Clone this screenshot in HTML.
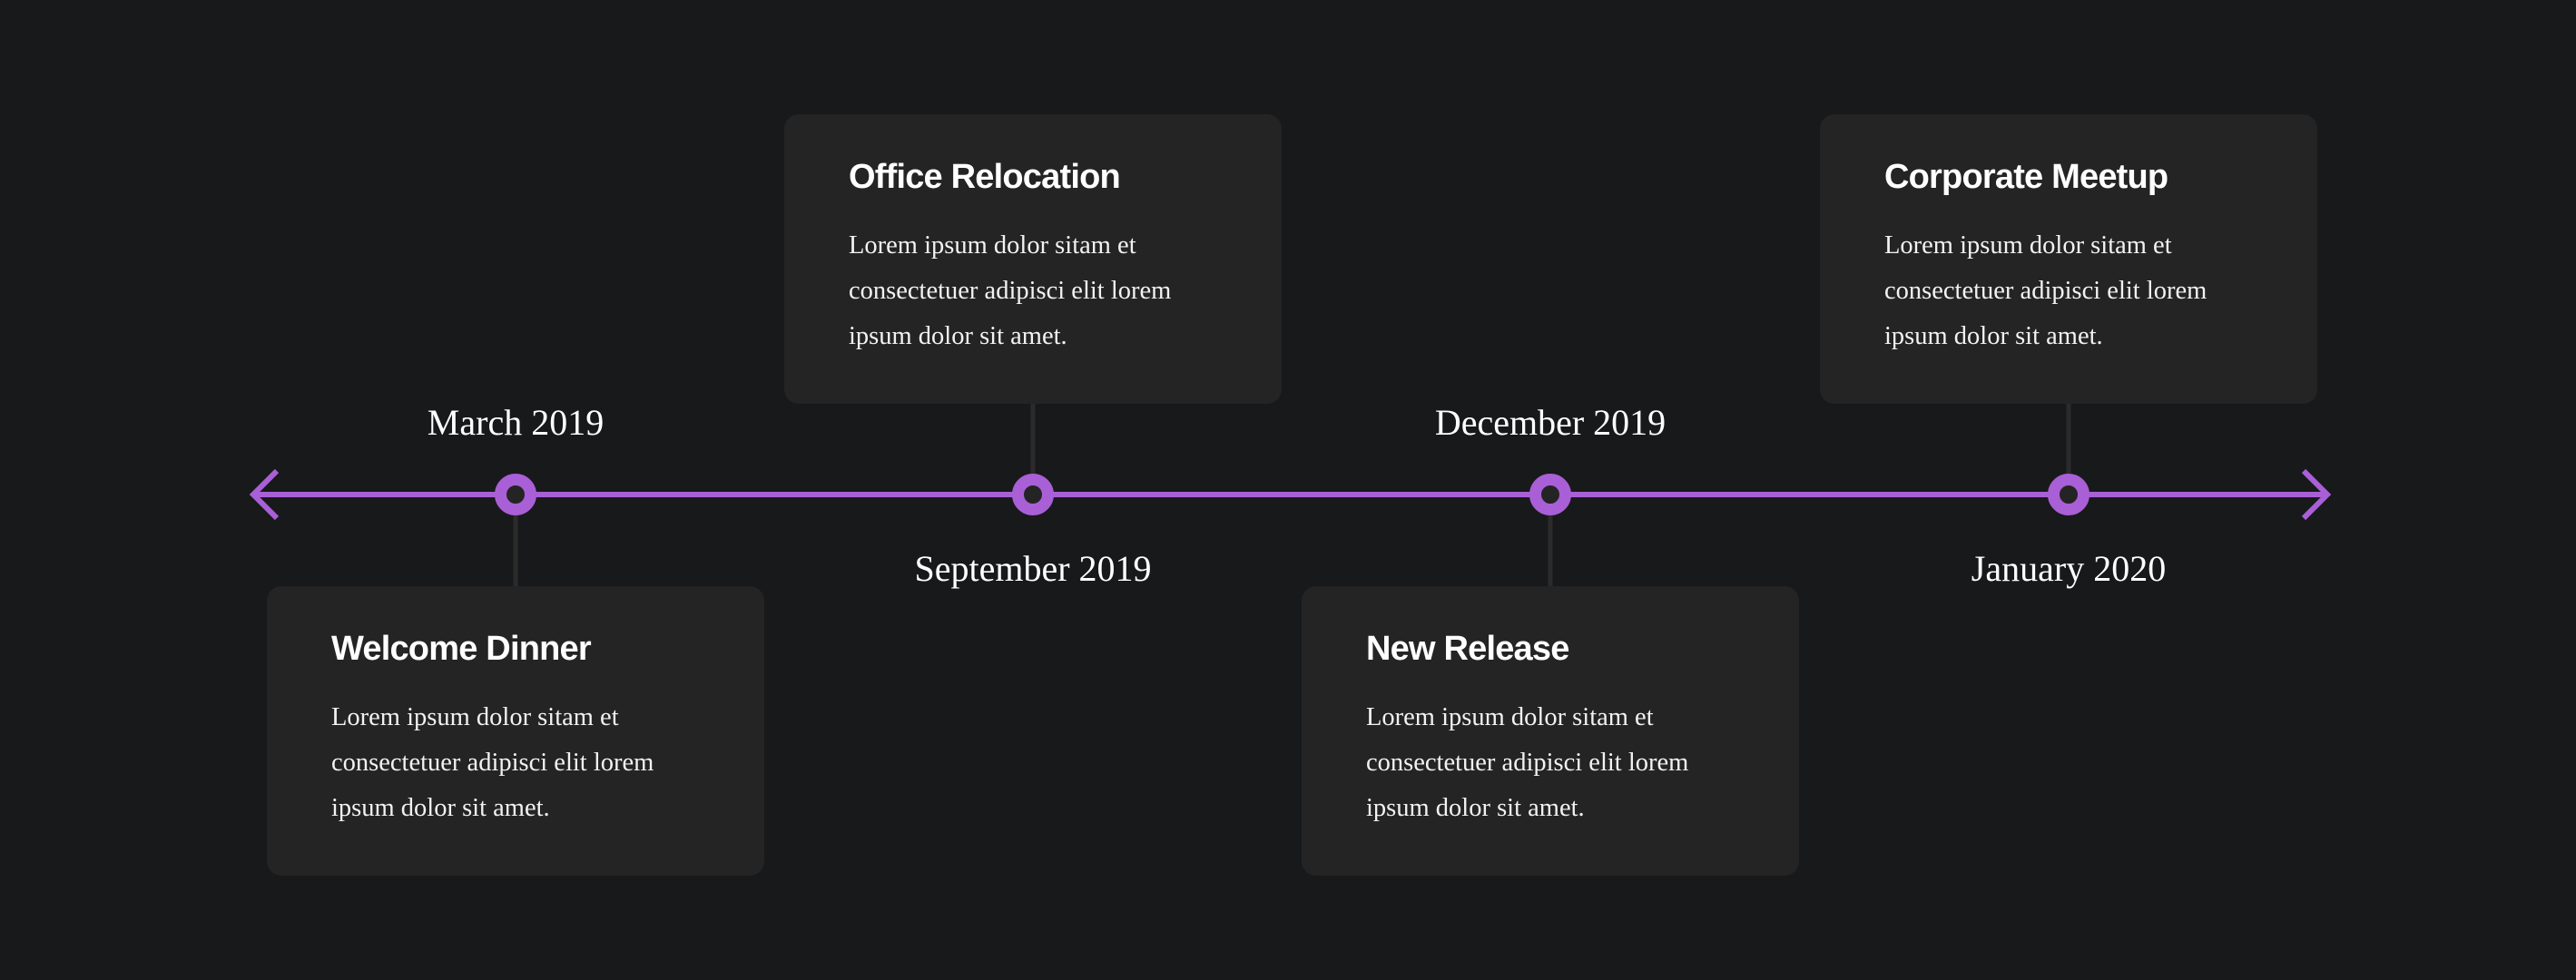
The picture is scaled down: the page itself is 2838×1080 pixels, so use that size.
<!DOCTYPE html>
<html><head><meta charset="utf-8"><style>
html,body{margin:0;padding:0;background:#18191b;}
#c{position:relative;width:2838px;height:1080px;overflow:hidden;background:#18191b;}
.card{position:absolute;width:548px;height:319px;background:#242424;border-radius:16px;box-sizing:border-box;padding-left:71px;}
.t{position:absolute;left:71px;top:48px;font-family:"Liberation Sans",sans-serif;font-weight:bold;font-size:38px;letter-spacing:-0.8px;color:#fff;white-space:nowrap;}
.b{position:absolute;left:71px;top:120px;font-family:"Liberation Serif",serif;font-size:28.5px;line-height:50px;color:#f2f2f2;white-space:nowrap;}
.d{position:absolute;width:500px;text-align:center;font-family:"Liberation Serif",serif;font-size:40px;color:#fff;line-height:1;}
</style></head><body><div id="c">
<svg width="2838" height="1080" style="position:absolute;left:0;top:0">
<g stroke="#2b2b2b" stroke-width="5">
<line x1="568" y1="545" x2="568" y2="650"/>
<line x1="1138" y1="440" x2="1138" y2="545"/>
<line x1="1708" y1="545" x2="1708" y2="650"/>
<line x1="2279" y1="440" x2="2279" y2="545"/>
</g>
<line x1="280" y1="545" x2="2563" y2="545" stroke="#a95fd6" stroke-width="6"/>
<polyline points="305,519 279,545 305,571" fill="none" stroke="#a95fd6" stroke-width="6"/>
<polyline points="2538,519 2564,545 2538,571" fill="none" stroke="#a95fd6" stroke-width="6"/>
<g fill="#242424" stroke="#a95fd6" stroke-width="13">
<circle cx="568" cy="545" r="16.5"/>
<circle cx="1138" cy="545" r="16.5"/>
<circle cx="1708" cy="545" r="16.5"/>
<circle cx="2279" cy="545" r="16.5"/>
</g>
</svg>
<div class="card" style="left:864px;top:126px"><div class="t">Office Relocation</div><div class="b">Lorem ipsum dolor sitam et<br>consectetuer adipisci elit lorem<br>ipsum dolor sit amet.</div></div>
<div class="card" style="left:2005px;top:126px"><div class="t">Corporate Meetup</div><div class="b">Lorem ipsum dolor sitam et<br>consectetuer adipisci elit lorem<br>ipsum dolor sit amet.</div></div>
<div class="card" style="left:294px;top:646px"><div class="t">Welcome Dinner</div><div class="b">Lorem ipsum dolor sitam et<br>consectetuer adipisci elit lorem<br>ipsum dolor sit amet.</div></div>
<div class="card" style="left:1434px;top:646px"><div class="t">New Release</div><div class="b">Lorem ipsum dolor sitam et<br>consectetuer adipisci elit lorem<br>ipsum dolor sit amet.</div></div>
<div class="d" style="left:318px;top:446px">March 2019</div>
<div class="d" style="left:1458px;top:446px">December 2019</div>
<div class="d" style="left:888px;top:607px">September 2019</div>
<div class="d" style="left:2029px;top:607px">January 2020</div>
</div></body></html>
